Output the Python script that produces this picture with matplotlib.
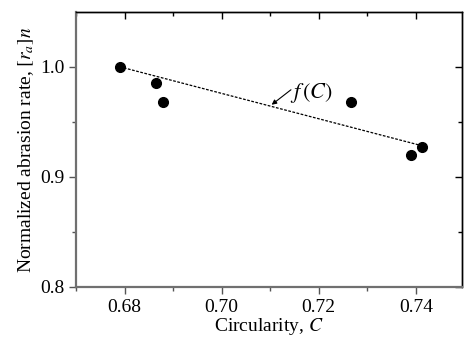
import matplotlib
matplotlib.use("Agg")
import matplotlib.pyplot as plt

# measured points
circularity = [0.679, 0.6864, 0.6879, 0.7266, 0.7390, 0.7412]
abrasion = [1.000, 0.985, 0.968, 0.968, 0.9195, 0.927]

# fitted trend f(C), end points
fit_c = [0.679, 0.7415]
fit_r = [1.000, 0.928]

xticks = [0.68, 0.70, 0.72, 0.74]
yticks = [0.8, 0.9, 1.0]
xminor = [0.67, 0.69, 0.71, 0.73]
yminor = [0.85, 0.95]

plt.rcParams["font.family"] = ["Liberation Serif", "DejaVu Serif"]
plt.rcParams["mathtext.fontset"] = "stix"

fig = plt.figure(figsize=(4.65, 3.4), dpi=100)
ax = fig.add_axes([0.1634, 0.1559, 0.8301, 0.8097])

ax.plot(fit_c, fit_r, color="k", lw=0.9, ls=(0, (2.2, 1.2)), zorder=2)
ax.plot(circularity, abrasion, "o", color="k", ms=7, zorder=3)

ax.annotate("$f\\,(C)$", xy=(0.7103, 0.9655), xytext=(0.7141, 0.9765),
            fontsize=16, va="center",
            arrowprops=dict(arrowstyle="-|>", color="k", lw=0.8, relpos=(0.02, 0.62),
                            patchA=None, mutation_scale=7, shrinkA=0, shrinkB=0))

ax.set_xlim(0.670, 0.7495)
ax.set_ylim(0.8, 1.05)
ax.set_xticks(xticks, [f"{v:.2f}" for v in xticks])
ax.set_yticks(yticks, [f"{v:.1f}" for v in yticks])
ax.set_xticks(xminor, minor=True)
ax.set_yticks(yminor, minor=True)
ax.tick_params(labelsize=14, direction="out", length=5, width=1, color="#555555")
ax.tick_params(which="minor", direction="out", length=3, width=1, color="#555555")

for side in ("left", "bottom"):
    ax.spines[side].set_color("#707070")
    ax.spines[side].set_linewidth(1.6)
for side in ("top", "right"):
    ax.spines[side].set_color("k")
    ax.spines[side].set_linewidth(1.0)

# inward ticks mirrored on top / right
top = ax.secondary_xaxis("top")
top.set_xticks(xticks, [])
top.set_xticks(xminor, minor=True)
top.tick_params(direction="in", length=5, width=1, color="k")
top.tick_params(which="minor", direction="in", length=3, width=1, color="k")
top.spines["top"].set_linewidth(1.0)
right = ax.secondary_yaxis("right")
right.set_yticks(yticks, [])
right.set_yticks(yminor, minor=True)
right.tick_params(direction="in", length=5, width=1, color="k")
right.tick_params(which="minor", direction="in", length=3, width=1, color="k")
right.spines["right"].set_linewidth(1.0)

ax.set_xlabel("Circularity, $C$", fontsize=14, labelpad=0)
ax.set_ylabel("Normalized abrasion rate, $[r_a]n$", fontsize=14, labelpad=3)

fig.savefig("out.png", dpi=100)
